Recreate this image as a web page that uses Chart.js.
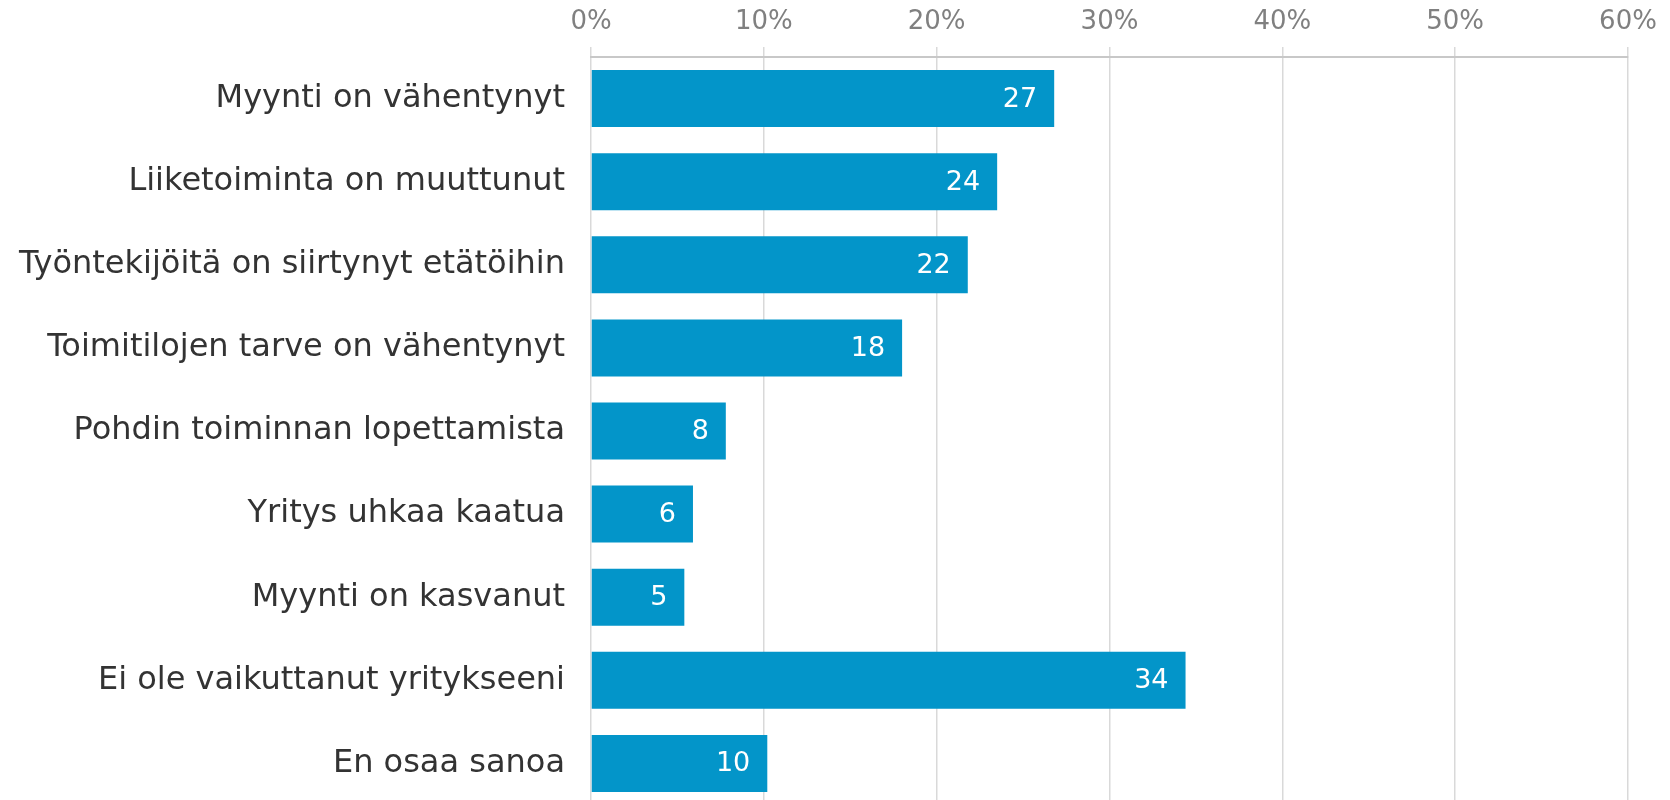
<!DOCTYPE html>
<html>
<head>
<meta charset="utf-8">
<script src="https://cdn.jsdelivr.net/npm/chart.js@4/dist/chart.umd.min.js"></script>
<style>
  html, body { margin: 0; padding: 0; background: #fff; overflow: hidden; }
  canvas { display: block; }
</style>
</head>
<body>
<canvas id="chart" width="1670" height="805"></canvas>
<script>
// Categories and values (percent)
const categories = [
    'Myynti on vähentynyt',
    'Liiketoiminta on muuttunut',
    'Työntekijöitä on siirtynyt etätöihin',
    'Toimitilojen tarve on vähentynyt',
    'Pohdin toiminnan lopettamista',
    'Yritys uhkaa kaatua',
    'Myynti on kasvanut',
    'Ei ole vaikuttanut yritykseeni',
    'En osaa sanoa'
];
const values = [26.8, 23.5, 21.8, 18.0, 7.8, 5.9, 5.4, 34.4, 10.2];
const valueLabels = ['27', '24', '22', '18', '8', '6', '5', '34', '10'];
const xTicks = [0, 10, 20, 30, 40, 50, 60];

// white value labels inside the bar end
const barLabels = {
    id: 'barLabels',
    afterDatasetsDraw(chart) {
        const ctx = chart.ctx;
        const meta = chart.getDatasetMeta(0);
        ctx.save();
        ctx.font = '27px "DejaVu Sans"';
        ctx.fillStyle = '#ffffff';
        ctx.textAlign = 'right';
        ctx.textBaseline = 'middle';
        meta.data.forEach((bar, i) => {
            ctx.fillText(valueLabels[i], bar.x - 17, bar.y + 1);
        });
        ctx.restore();
    }
};

const ctx = document.getElementById('chart').getContext('2d');
new Chart(ctx, {
    type: 'bar',
    data: {
        labels: categories,
        datasets: [{
            data: values,
            backgroundColor: '#0395c9',
            borderWidth: 0,
            categoryPercentage: 1,
            barPercentage: 0.686
        }]
    },
    options: {
        responsive: false,
        indexAxis: 'y',
        animation: false,
        layout: { padding: { left: 0, right: 42, top: 0, bottom: 0 } },
        plugins: {
            legend: { display: false },
            tooltip: { enabled: false }
        },
        scales: {
            x: {
                position: 'top',
                min: 0,
                max: 60,
                afterBuildTicks(scale) {
                    scale.ticks = xTicks.map(v => ({ value: v }));
                },
                afterFit(scale) { scale.height = 57; },
                grid: {
                    color: '#d9d9d9',
                    lineWidth: 1.5,
                    drawTicks: true,
                    tickLength: 10,
                    tickColor: '#d9d9d9'
                },
                border: { display: true, color: '#c8c8c8', width: 2 },
                ticks: {
                    padding: 9,
                    color: '#808080',
                    font: { family: 'DejaVu Sans', size: 26 },
                    callback: v => v + '%'
                }
            },
            y: {
                afterFit(scale) {
                    scale.width = 591;
                    scale.paddingTop = 0;
                    scale.paddingBottom = 0;
                },
                grid: { display: false },
                border: { display: false },
                ticks: {
                    padding: 18,
                    color: '#333333',
                    font: { family: 'DejaVu Sans', size: 32 }
                }
            }
        }
    },
    plugins: [barLabels]
});
</script>
</body>
</html>
